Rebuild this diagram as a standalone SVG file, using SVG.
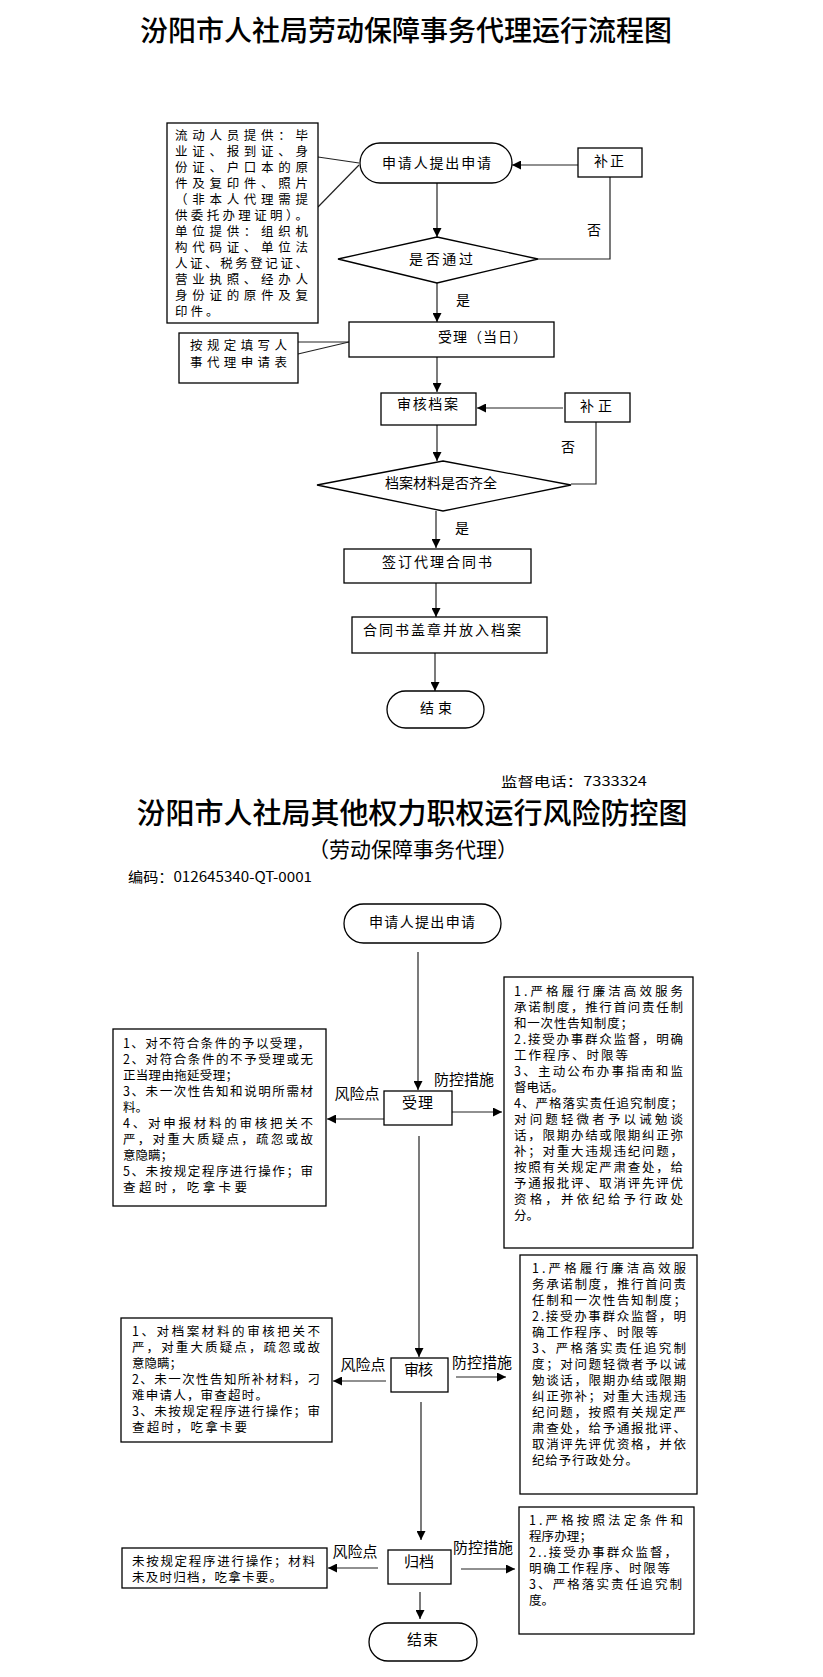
<svg xmlns="http://www.w3.org/2000/svg" width="823" height="1677" viewBox="0 0 823 1677">
<style>
text{font-family:"Noto Sans CJK SC","Liberation Sans",sans-serif;fill:#000}
.t1{font-size:28px;font-weight:500}
.t2{font-size:21px}
.b{font-size:12.5px}
.m{font-size:14px}
.l{font-size:15px}
.box{fill:#fff;stroke:#000;stroke-width:1.3}
.cn{fill:none;stroke:#222;stroke-width:1.2}
</style>
<defs>
<marker id="ah" viewBox="0 0 10 10" refX="10" refY="5" markerWidth="9" markerHeight="9" orient="auto" markerUnits="userSpaceOnUse"><path d="M0,0 L10,5 L0,10 z" fill="#000"/></marker>
</defs>
<rect width="823" height="1677" fill="#fff"/>

<!-- Titles -->
<g id="title1"><text class="t1" x="406" y="41" text-anchor="middle">汾阳市人社局劳动保障事务代理运行流程图</text></g>
<g id="supervise"><text x="501" y="786" style="font-size:13px" textLength="146" lengthAdjust="spacingAndGlyphs">监督电话：7333324</text></g>
<g id="title2"><text class="t1" x="412" y="824" text-anchor="middle" style="font-size:29px">汾阳市人社局其他权力职权运行风险防控图</text></g>
<g id="subtitle"><text class="t2" x="413" y="857" text-anchor="middle">（劳动保障事务代理）</text></g>
<g id="code"><text class="m" x="128" y="882" textLength="184" lengthAdjust="spacingAndGlyphs">编码：012645340-QT-0001</text></g>

<!-- Connectors -->
<g id="connectors">
<line class="cn" x1="318" y1="157" x2="359" y2="163"/>
<line class="cn" x1="318" y1="207" x2="359" y2="165"/>
<line class="cn" x1="298" y1="342" x2="349" y2="342"/>
<line class="cn" x1="298" y1="354" x2="349" y2="342"/>
<line class="cn" x1="437" y1="183" x2="437" y2="237" marker-end="url(#ah)"/>
<line class="cn" x1="437" y1="283" x2="437" y2="322" marker-end="url(#ah)"/>
<polyline class="cn" points="538,259 610,259 610,177"/>
<line class="cn" x1="578" y1="165" x2="512" y2="165" marker-end="url(#ah)"/>
<line class="cn" x1="437" y1="357" x2="437" y2="392" marker-end="url(#ah)"/>
<line class="cn" x1="563" y1="408" x2="477" y2="408" marker-end="url(#ah)"/>
<polyline class="cn" points="596,422 596,484 571,484"/>
<line class="cn" x1="437" y1="425" x2="437" y2="461" marker-end="url(#ah)"/>
<line class="cn" x1="436" y1="511" x2="436" y2="548" marker-end="url(#ah)"/>
<line class="cn" x1="436" y1="583" x2="436" y2="617" marker-end="url(#ah)"/>
<line class="cn" x1="435" y1="653" x2="435" y2="691" marker-end="url(#ah)"/>

<line class="cn" x1="418" y1="952" x2="418" y2="1090" marker-end="url(#ah)"/>
<line class="cn" x1="384" y1="1119" x2="327" y2="1119" marker-end="url(#ah)"/>
<line class="cn" x1="452" y1="1112" x2="502" y2="1112" marker-end="url(#ah)"/>
<line class="cn" x1="419" y1="1136" x2="419" y2="1357" marker-end="url(#ah)"/>
<line class="cn" x1="386" y1="1381" x2="333" y2="1381" marker-end="url(#ah)"/>
<line class="cn" x1="456" y1="1377" x2="506" y2="1377" marker-end="url(#ah)"/>
<line class="cn" x1="421" y1="1402" x2="421" y2="1540" marker-end="url(#ah)"/>
<line class="cn" x1="378" y1="1568" x2="328" y2="1568" marker-end="url(#ah)"/>
<line class="cn" x1="461" y1="1569" x2="515" y2="1569" marker-end="url(#ah)"/>
<line class="cn" x1="420" y1="1592" x2="420" y2="1619" marker-end="url(#ah)"/>

<text class="m" x="594" y="235" text-anchor="middle">否</text>
<text class="m" x="463" y="305" text-anchor="middle">是</text>
<text class="m" x="568" y="452" text-anchor="middle">否</text>
<text class="m" x="462" y="533" text-anchor="middle">是</text>

<text class="l" x="357" y="1099" text-anchor="middle">风险点</text>
<text class="l" x="464" y="1085" text-anchor="middle">防控措施</text>
<text class="l" x="363" y="1370" text-anchor="middle">风险点</text>
<text class="l" x="482" y="1368" text-anchor="middle">防控措施</text>
<text class="l" x="355" y="1557" text-anchor="middle">风险点</text>
<text class="l" x="483" y="1553" text-anchor="middle">防控措施</text>
</g>

<!-- Top flowchart nodes -->
<g id="note1">
<rect class="box" x="167" y="123" width="151" height="200"/>
<text class="b">
<tspan x="175" y="140" textLength="133" lengthAdjust="spacing">流动人员提供：毕</tspan>
<tspan x="175" y="156" textLength="133" lengthAdjust="spacing">业证、报到证、身</tspan>
<tspan x="175" y="172" textLength="133" lengthAdjust="spacing">份证、户口本的原</tspan>
<tspan x="175" y="188" textLength="133" lengthAdjust="spacing">件及复印件、照片</tspan>
<tspan x="175" y="204" textLength="133" lengthAdjust="spacing">（非本人代理需提</tspan>
<tspan x="175" y="220" textLength="133" lengthAdjust="spacing">供委托办理证明）。</tspan>
<tspan x="175" y="236" textLength="133" lengthAdjust="spacing">单位提供：组织机</tspan>
<tspan x="175" y="252" textLength="133" lengthAdjust="spacing">构代码证、单位法</tspan>
<tspan x="175" y="268" textLength="133" lengthAdjust="spacing">人证、税务登记证、</tspan>
<tspan x="175" y="284" textLength="133" lengthAdjust="spacing">营业执照、经办人</tspan>
<tspan x="175" y="300" textLength="133" lengthAdjust="spacing">身份证的原件及复</tspan>
<tspan x="175" y="316" letter-spacing="3">印件。</tspan>
</text>
</g>
<g id="start1">
<rect class="box" x="360" y="143" width="152" height="40" rx="20"/>
<text class="m" x="382" y="168" textLength="109" lengthAdjust="spacing">申请人提出申请</text>
</g>
<g id="fix1">
<rect class="box" x="578" y="148" width="64" height="29"/>
<text class="m" x="610" y="166" text-anchor="middle" letter-spacing="2">补正</text>
</g>
<g id="check1">
<polygon class="box" points="437,237 538,259 437,283 338,259"/>
<text class="m" x="409" y="264" textLength="64" lengthAdjust="spacing">是否通过</text>
</g>
<g id="accept1">
<rect class="box" x="349" y="322" width="205" height="35"/>
<text class="m" x="438" y="342" textLength="89" lengthAdjust="spacing">受理（当日）</text>
</g>
<g id="note2">
<rect class="box" x="179" y="333" width="119" height="50"/>
<text class="b">
<tspan x="190" y="350" textLength="97" lengthAdjust="spacing">按规定填写人</tspan>
<tspan x="190" y="367" textLength="97" lengthAdjust="spacing">事代理申请表</tspan>
</text>
</g>
<g id="audit1">
<rect class="box" x="381" y="393" width="95" height="32"/>
<text class="m" x="397" y="409" textLength="61" lengthAdjust="spacing">审核档案</text>
</g>
<g id="fix2">
<rect class="box" x="565" y="393" width="65" height="29"/>
<text class="m" x="580" y="411" textLength="32" lengthAdjust="spacing">补正</text>
</g>
<g id="check2">
<polygon class="box" points="443,461 571,485 443,511 317,485"/>
<text class="m" x="385" y="488" textLength="112" lengthAdjust="spacing">档案材料是否齐全</text>
</g>
<g id="sign">
<rect class="box" x="344" y="549" width="187" height="34"/>
<text class="m" x="382" y="567" textLength="110" lengthAdjust="spacing">签订代理合同书</text>
</g>
<g id="seal">
<rect class="box" x="352" y="617" width="195" height="36"/>
<text class="m" x="363" y="635" textLength="158" lengthAdjust="spacing">合同书盖章并放入档案</text>
</g>
<g id="end1">
<rect class="box" x="387" y="691" width="97" height="37" rx="18.5"/>
<text class="m" x="420" y="713" textLength="32" lengthAdjust="spacing">结束</text>
</g>

<!-- Second chart nodes -->
<g id="start2">
<rect class="box" x="344" y="904" width="157" height="39" rx="19.5"/>
<text class="m" x="369" y="927" textLength="106" lengthAdjust="spacing">申请人提出申请</text>
</g>
<g id="accept2">
<rect class="box" x="384" y="1091" width="68" height="34"/>
<text class="l" x="402" y="1108" textLength="31" lengthAdjust="spacing">受理</text>
</g>
<g id="risk1">
<rect class="box" x="113" y="1029" width="213" height="177"/>
<text class="b">
<tspan x="123" y="1048" textLength="187" lengthAdjust="spacing">1、对不符合条件的予以受理，</tspan>
<tspan x="123" y="1064" textLength="190" lengthAdjust="spacing">2、对符合条件的不予受理或无</tspan>
<tspan x="123" y="1080" textLength="115" lengthAdjust="spacing">正当理由拖延受理；</tspan>
<tspan x="123" y="1096" textLength="190" lengthAdjust="spacing">3、未一次性告知和说明所需材</tspan>
<tspan x="123" y="1112">料。</tspan>
<tspan x="123" y="1128" textLength="190" lengthAdjust="spacing">4、对申报材料的审核把关不</tspan>
<tspan x="123" y="1144" textLength="190" lengthAdjust="spacing">严，对重大质疑点，疏忽或故</tspan>
<tspan x="123" y="1160">意隐瞒；</tspan>
<tspan x="123" y="1176" textLength="190" lengthAdjust="spacing">5、未按规定程序进行操作；审</tspan>
<tspan x="123" y="1192" textLength="124" lengthAdjust="spacing">查超时，吃拿卡要</tspan>
</text>
</g>
<g id="measure1">
<rect class="box" x="504" y="977" width="189" height="271"/>
<text class="b">
<tspan x="514" y="996" textLength="169" lengthAdjust="spacing">1.严格履行廉洁高效服务</tspan>
<tspan x="514" y="1012" textLength="169" lengthAdjust="spacing">承诺制度，推行首问责任制</tspan>
<tspan x="514" y="1028" textLength="119" lengthAdjust="spacing">和一次性告知制度；</tspan>
<tspan x="514" y="1044" textLength="169" lengthAdjust="spacing">2.接受办事群众监督，明确</tspan>
<tspan x="514" y="1060" textLength="114" lengthAdjust="spacing">工作程序、时限等</tspan>
<tspan x="514" y="1076" textLength="169" lengthAdjust="spacing">3、主动公布办事指南和监</tspan>
<tspan x="514" y="1092">督电话。</tspan>
<tspan x="514" y="1108" textLength="169" lengthAdjust="spacing">4、严格落实责任追究制度；</tspan>
<tspan x="514" y="1124" textLength="169" lengthAdjust="spacing">对问题轻微者予以诫勉谈</tspan>
<tspan x="514" y="1140" textLength="169" lengthAdjust="spacing">话，限期办结或限期纠正弥</tspan>
<tspan x="514" y="1156" textLength="169" lengthAdjust="spacing">补；对重大违规违纪问题，</tspan>
<tspan x="514" y="1172" textLength="169" lengthAdjust="spacing">按照有关规定严肃查处，给</tspan>
<tspan x="514" y="1188" textLength="169" lengthAdjust="spacing">予通报批评、取消评先评优</tspan>
<tspan x="514" y="1204" textLength="169" lengthAdjust="spacing">资格，并依纪给予行政处</tspan>
<tspan x="514" y="1220">分。</tspan>
</text>
</g>
<g id="audit2">
<rect class="box" x="391" y="1358" width="57" height="34"/>
<text class="l" x="404" y="1375" textLength="29" lengthAdjust="spacing">审核</text>
</g>
<g id="risk2">
<rect class="box" x="121" y="1318" width="211" height="124"/>
<text class="b">
<tspan x="132" y="1336" textLength="188" lengthAdjust="spacing">1、对档案材料的审核把关不</tspan>
<tspan x="132" y="1352" textLength="188" lengthAdjust="spacing">严，对重大质疑点，疏忽或故</tspan>
<tspan x="132" y="1368">意隐瞒；</tspan>
<tspan x="132" y="1384" textLength="188" lengthAdjust="spacing">2、未一次性告知所补材料，刁</tspan>
<tspan x="132" y="1400" textLength="136" lengthAdjust="spacing">难申请人，审查超时。</tspan>
<tspan x="132" y="1416" textLength="188" lengthAdjust="spacing">3、未按规定程序进行操作；审</tspan>
<tspan x="132" y="1432" textLength="115" lengthAdjust="spacing">查超时，吃拿卡要</tspan>
</text>
</g>
<g id="measure2">
<rect class="box" x="520" y="1255" width="177" height="239"/>
<text class="b">
<tspan x="532" y="1273" textLength="154" lengthAdjust="spacing">1.严格履行廉洁高效服</tspan>
<tspan x="532" y="1289" textLength="154" lengthAdjust="spacing">务承诺制度，推行首问责</tspan>
<tspan x="532" y="1305" textLength="154" lengthAdjust="spacing">任制和一次性告知制度；</tspan>
<tspan x="532" y="1321" textLength="154" lengthAdjust="spacing">2.接受办事群众监督，明</tspan>
<tspan x="532" y="1337" textLength="126" lengthAdjust="spacing">确工作程序、时限等</tspan>
<tspan x="532" y="1353" textLength="154" lengthAdjust="spacing">3、严格落实责任追究制</tspan>
<tspan x="532" y="1369" textLength="154" lengthAdjust="spacing">度；对问题轻微者予以诫</tspan>
<tspan x="532" y="1385" textLength="154" lengthAdjust="spacing">勉谈话，限期办结或限期</tspan>
<tspan x="532" y="1401" textLength="154" lengthAdjust="spacing">纠正弥补；对重大违规违</tspan>
<tspan x="532" y="1417" textLength="154" lengthAdjust="spacing">纪问题，按照有关规定严</tspan>
<tspan x="532" y="1433" textLength="154" lengthAdjust="spacing">肃查处，给予通报批评、</tspan>
<tspan x="532" y="1449" textLength="154" lengthAdjust="spacing">取消评先评优资格，并依</tspan>
<tspan x="532" y="1465" textLength="106" lengthAdjust="spacing">纪给予行政处分。</tspan>
</text>
</g>
<g id="archive">
<rect class="box" x="388" y="1550" width="63" height="34"/>
<text class="l" x="404" y="1567" textLength="30" lengthAdjust="spacing">归档</text>
</g>
<g id="risk3">
<rect class="box" x="122" y="1548" width="205" height="40"/>
<text class="b">
<tspan x="132" y="1566" textLength="183" lengthAdjust="spacing">未按规定程序进行操作；材料</tspan>
<tspan x="132" y="1582" textLength="150" lengthAdjust="spacing">未及时归档，吃拿卡要。</tspan>
</text>
</g>
<g id="measure3">
<rect class="box" x="519" y="1507" width="175" height="127"/>
<text class="b">
<tspan x="529" y="1525" textLength="154" lengthAdjust="spacing">1.严格按照法定条件和</tspan>
<tspan x="529" y="1541" textLength="63" lengthAdjust="spacing">程序办理；</tspan>
<tspan x="529" y="1557" textLength="148" lengthAdjust="spacing">2..接受办事群众监督，</tspan>
<tspan x="529" y="1573" textLength="141" lengthAdjust="spacing">明确工作程序、时限等</tspan>
<tspan x="529" y="1589" textLength="153" lengthAdjust="spacing">3、严格落实责任追究制</tspan>
<tspan x="529" y="1605">度。</tspan>
</text>
</g>
<g id="end2">
<rect class="box" x="369" y="1623" width="108" height="38" rx="19"/>
<text class="l" x="407" y="1645" textLength="31" lengthAdjust="spacing">结束</text>
</g>
</svg>
